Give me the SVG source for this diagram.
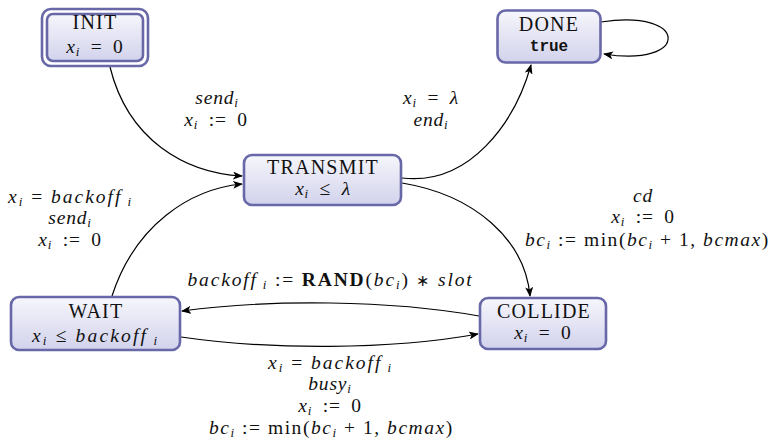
<svg xmlns="http://www.w3.org/2000/svg" width="771" height="441" viewBox="0 0 771 441">
<style>
.box{fill:url(#g);stroke:#6868a8;stroke-width:2.6}
.t{font-family:"Liberation Serif",serif;font-size:20px;letter-spacing:1.2px;text-anchor:middle;fill:#111}
.m{font-family:"Liberation Serif",serif;font-size:19.5px;font-style:italic;letter-spacing:0.8px;text-anchor:middle;fill:#111}
.r{font-style:normal}
.b{font-style:normal;font-weight:bold}
.sb{font-size:13px}
.ast{font-style:normal;font-size:16px}
.tt{font-family:"Liberation Mono",monospace;font-weight:bold;font-size:16px;text-anchor:middle;fill:#111}
.e{fill:none;stroke:#000;stroke-width:1.2;marker-end:url(#a)}
</style>
<defs>
<linearGradient id="g" x1="0" y1="0" x2="0" y2="1">
<stop offset="0" stop-color="#f6f6fc"/>
<stop offset="1" stop-color="#d2d2ec"/>
</linearGradient>
<marker id="a" viewBox="0 0 10 8" refX="9" refY="4" markerWidth="10" markerHeight="8" markerUnits="userSpaceOnUse" orient="auto">
<path d="M0,0 L10,4 L0,8 L2.5,4 z" fill="#000"/>
</marker>
</defs>

<g id="edges">
<path class="e" d="M110,67 C128,140 185,173 242,176"/>
<path class="e" d="M112,296 C135,225 190,189 242,184"/>
<path class="e" d="M402,178 C470,186 515,122 531,65"/>
<path class="e" d="M601,22 C690,8 690,68 604,54"/>
<path class="e" d="M402,183 C475,195 525,240 530,296"/>
<path class="e" d="M479,316 C390,300 270,299 182,311"/>
<path class="e" d="M181,337 C270,350 390,350 478,334"/>
</g>

<g id="init">
<rect x="42" y="9" width="106" height="57" rx="9" fill="#fff" stroke="#6868a8" stroke-width="2.6"/>
<rect class="box" x="47" y="14" width="96" height="47" rx="6"/>
<text class="t" x="95" y="29">INIT</text>
<text class="m" x="95" y="53">x<tspan class="sb" dy="3">i</tspan><tspan class="r" dy="-3">&#8194;=&#8194;0</tspan></text>
</g>

<g id="done">
<rect class="box" x="497.5" y="10.5" width="103" height="52" rx="8"/>
<text class="t" x="549" y="31">DONE</text>
<text class="tt" x="549" y="51">true</text>
</g>

<g id="transmit">
<rect class="box" x="244" y="155" width="157" height="50" rx="8"/>
<text class="t" x="323" y="174">TRANSMIT</text>
<text class="m" x="323" y="195">x<tspan class="sb" dy="3">i</tspan><tspan class="r" dy="-3">&#8194;≤&#8194;</tspan>λ</text>
</g>

<g id="wait">
<rect class="box" x="11" y="297" width="169" height="53" rx="8"/>
<text class="t" x="96" y="318">WAIT</text>
<text class="m" x="95" y="342" textLength="126">x<tspan class="sb" dy="3">i</tspan><tspan class="r" dy="-3"> ≤ </tspan>backoff<tspan class="sb" dy="3"> i</tspan></text>
</g>

<g id="collide">
<rect class="box" x="480" y="298" width="126" height="51" rx="8"/>
<text class="t" x="544" y="318">COLLIDE</text>
<text class="m" x="543" y="339">x<tspan class="sb" dy="3">i</tspan><tspan class="r" dy="-3">&#8194;=&#8194;0</tspan></text>
</g>

<g id="labels">
<text class="m" x="217" y="104">send<tspan class="sb" dy="3">i</tspan></text>
<text class="m" x="216" y="126">x<tspan class="sb" dy="3">i</tspan><tspan class="r" dy="-3">&#8194;:=&#8194;0</tspan></text>

<text class="m" x="431" y="104">x<tspan class="sb" dy="3">i</tspan><tspan class="r" dy="-3">&#8194;=&#8194;</tspan>λ</text>
<text class="m" x="431" y="126">end<tspan class="sb" dy="3">i</tspan></text>

<text class="m" x="70" y="203" textLength="124">x<tspan class="sb" dy="3">i</tspan><tspan class="r" dy="-3"> = </tspan>backoff<tspan class="sb" dy="3"> i</tspan></text>
<text class="m" x="70" y="224">send<tspan class="sb" dy="3">i</tspan></text>
<text class="m" x="70" y="246">x<tspan class="sb" dy="3">i</tspan><tspan class="r" dy="-3">&#8194;:=&#8194;0</tspan></text>

<text class="m" x="643" y="202">cd</text>
<text class="m" x="643" y="223">x<tspan class="sb" dy="3">i</tspan><tspan class="r" dy="-3">&#8194;:=&#8194;0</tspan></text>
<text class="m" x="647" y="246" textLength="244">bc<tspan class="sb" dy="3">i</tspan><tspan class="r" dy="-3"> := min(</tspan>bc<tspan class="sb" dy="3">i</tspan><tspan class="r" dy="-3"> + 1, </tspan>bcmax<tspan class="r">)</tspan></text>

<text class="m" x="330" y="286" textLength="285">backoff<tspan class="sb" dy="3"> i</tspan><tspan class="r" dy="-3"> := </tspan><tspan class="b">RAND</tspan><tspan class="r">(</tspan>bc<tspan class="sb" dy="3">i</tspan><tspan class="r" dy="-3">) </tspan><tspan class="ast">∗</tspan><tspan class="r"> </tspan>slot</text>

<text class="m" x="330" y="369" textLength="124">x<tspan class="sb" dy="3">i</tspan><tspan class="r" dy="-3"> = </tspan>backoff<tspan class="sb" dy="3"> i</tspan></text>
<text class="m" x="330" y="390">busy<tspan class="sb" dy="3">i</tspan></text>
<text class="m" x="330" y="412">x<tspan class="sb" dy="3">i</tspan><tspan class="r" dy="-3">&#8194;:=&#8194;0</tspan></text>
<text class="m" x="331" y="434" textLength="244">bc<tspan class="sb" dy="3">i</tspan><tspan class="r" dy="-3"> := min(</tspan>bc<tspan class="sb" dy="3">i</tspan><tspan class="r" dy="-3"> + 1, </tspan>bcmax<tspan class="r">)</tspan></text>
</g>
</svg>
